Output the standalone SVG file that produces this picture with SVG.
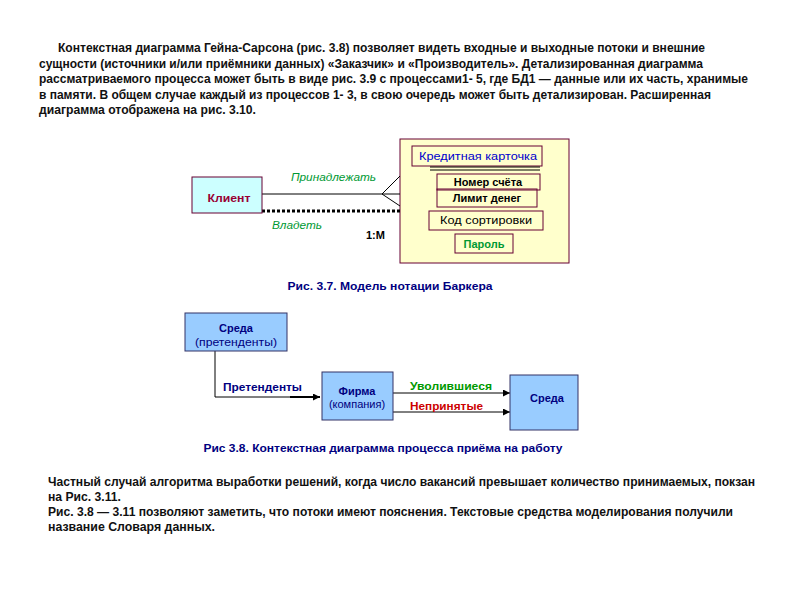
<svg xmlns="http://www.w3.org/2000/svg" width="794" height="595" viewBox="0 0 794 595">
<style>
.p{font-family:"Liberation Sans",Arial,sans-serif;font-size:12px;font-weight:bold;fill:#111}
.t{font-family:"Liberation Sans",Arial,sans-serif;font-size:11px}
.b{font-weight:bold}
.c{text-anchor:middle}
.g{fill:#009933;font-style:italic}
.nv{fill:#000080}
.ln{stroke:#000;stroke-width:1;fill:none}
.bx{fill:none;stroke:#660033;stroke-width:1}
.bl{fill:#99ccff;stroke:#333366;stroke-width:1}
</style>
<defs>
<marker id="ar" viewBox="0 0 10 10" refX="10" refY="5" markerWidth="7" markerHeight="7" markerUnits="userSpaceOnUse" orient="auto">
<path d="M0,0 L10,5 L0,10 z" fill="#000"/>
</marker>
</defs>
<rect width="794" height="595" fill="#fff"/>
<g id="para-top">
<text class="p" x="58" y="52" textLength="647" lengthAdjust="spacingAndGlyphs">Контекстная диаграмма Гейна-Сарсона (рис. 3.8) позволяет видеть входные и выходные потоки и внешние</text>
<text class="p" x="39" y="67.5" textLength="664" lengthAdjust="spacingAndGlyphs">сущности (источники и/или приёмники данных) «Заказчик» и «Производитель». Детализированная диаграмма</text>
<text class="p" x="39" y="83" textLength="709" lengthAdjust="spacingAndGlyphs">рассматриваемого процесса может быть в виде рис. 3.9 с процессами1- 5, где БД1 — данные или их часть, хранимые</text>
<text class="p" x="39" y="98.5" textLength="672" lengthAdjust="spacingAndGlyphs">в памяти. В общем случае каждый из процессов 1- 3, в свою очередь может быть детализирован. Расширенная</text>
<text class="p" x="39" y="114" textLength="217" lengthAdjust="spacingAndGlyphs">диаграмма отображена на рис. 3.10.</text>
</g>
<g id="fig37-container">
<rect x="400" y="139" width="169" height="124" fill="#ffffcc" stroke="#660033"/>
</g>
<g id="connectors">
<line class="ln" x1="262" y1="194" x2="400" y2="194"/>
<line class="ln" x1="382" y1="194" x2="400" y2="176"/>
<line class="ln" x1="382" y1="194" x2="400" y2="206"/>
<line x1="262" y1="211" x2="400" y2="211" stroke="#000" stroke-width="3" stroke-dasharray="3,2"/>
<polyline class="ln" points="215,351 215,397 320,397" marker-end="url(#ar)"/>
<line x1="290" y1="397" x2="320" y2="397" stroke="#000" stroke-width="2"/>
<line class="ln" x1="393" y1="393" x2="510" y2="393" stroke-width="1.5" marker-end="url(#ar)"/>
<line class="ln" x1="393" y1="412" x2="510" y2="412" marker-end="url(#ar)"/>
</g>
<g id="client">
<rect x="192" y="177" width="70" height="36" fill="#ccffff" stroke="#660033"/>
<text class="t b c" x="229" y="202" fill="#990033" textLength="43" lengthAdjust="spacingAndGlyphs">Клиент</text>
</g>
<g id="card">
<rect class="bx" x="412" y="146" width="130" height="20"/>
<text class="t c" x="478" y="160" fill="#0000cc" textLength="118" lengthAdjust="spacingAndGlyphs">Кредитная карточка</text>
<line class="ln" x1="430" y1="167" x2="540" y2="167"/>
<line class="ln" x1="430" y1="170" x2="540" y2="170"/>
</g>
<g id="attr-number">
<rect class="bx" x="437" y="174" width="103" height="16"/>
<text class="t b c" x="488" y="186" fill="#000">Номер счёта</text>
</g>
<g id="attr-limit">
<rect class="bx" x="437" y="189" width="100" height="18"/>
<text class="t b c" x="487" y="202" fill="#000">Лимит денег</text>
</g>
<g id="attr-code">
<rect class="bx" x="429" y="211" width="114" height="19"/>
<text class="t c" x="486" y="224" fill="#000" textLength="92" lengthAdjust="spacingAndGlyphs">Код сортировки</text>
</g>
<g id="attr-pass">
<rect class="bx" x="455" y="234" width="58" height="19"/>
<text class="t b c" x="484" y="248" fill="#009933">Пароль</text>
</g>
<g id="labels37">
<text class="t g" x="291" y="181" textLength="85" lengthAdjust="spacingAndGlyphs">Принадлежать</text>
<text class="t g" x="272" y="229" textLength="50" lengthAdjust="spacingAndGlyphs">Владеть</text>
<text class="t b" x="366" y="239" fill="#000">1:M</text>
<text class="t b c nv" x="390" y="290" textLength="205" lengthAdjust="spacingAndGlyphs">Рис. 3.7. Модель нотации Баркера</text>
</g>
<g id="env-applicants">
<rect class="bl" x="185" y="313" width="102" height="38"/>
<text class="t b c nv" x="236" y="332">Среда</text>
<text class="t c nv" x="236" y="346" textLength="82" lengthAdjust="spacingAndGlyphs">(претенденты)</text>
</g>
<g id="firm">
<rect class="bl" x="322" y="372" width="71" height="48"/>
<text class="t b c nv" x="357" y="395">Фирма</text>
<text class="t c nv" x="357" y="408">(компания)</text>
</g>
<g id="env">
<rect class="bl" x="510" y="375" width="68" height="55"/>
<text class="t b c nv" x="547" y="402">Среда</text>
</g>
<g id="labels38">
<text class="t b nv" x="223" y="391" textLength="79" lengthAdjust="spacingAndGlyphs">Претенденты</text>
<text class="t b" x="410" y="390" fill="#009900" textLength="82" lengthAdjust="spacingAndGlyphs">Уволившиеся</text>
<text class="t b" x="410" y="410" fill="#cc0000" textLength="73" lengthAdjust="spacingAndGlyphs">Непринятые</text>
<text class="t b c nv" x="383" y="452" textLength="359" lengthAdjust="spacingAndGlyphs">Рис 3.8. Контекстная диаграмма процесса приёма на работу</text>
</g>
<g id="para-bottom">
<text class="p" x="48" y="486" textLength="707" lengthAdjust="spacingAndGlyphs">Частный случай алгоритма выработки решений, когда число вакансий превышает количество принимаемых, покзан</text>
<text class="p" x="48" y="501" textLength="73" lengthAdjust="spacingAndGlyphs">на Рис. 3.11.</text>
<text class="p" x="48" y="516" textLength="685" lengthAdjust="spacingAndGlyphs">Рис. 3.8 — 3.11 позволяют заметить, что потоки имеют пояснения. Текстовые средства моделирования получили</text>
<text class="p" x="48" y="531" textLength="167" lengthAdjust="spacingAndGlyphs">название  Словаря данных.</text>
</g>
</svg>
